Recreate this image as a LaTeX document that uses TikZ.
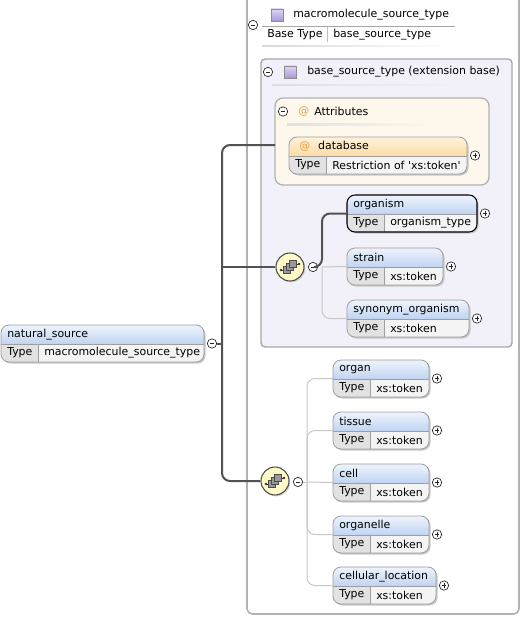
\documentclass[tikz,border=0pt]{standalone}
\usepackage{fontspec}
\setmainfont{DejaVu Sans}
\usetikzlibrary{shadows}

\definecolor{hdtop}{RGB}{238,244,253}
\definecolor{hdbot}{RGB}{192,212,241}
\definecolor{ortop}{RGB}{254,242,220}
\definecolor{orbot}{RGB}{251,220,165}
\definecolor{typecell}{RGB}{226,226,226}
\definecolor{valcell}{RGB}{244,244,244}
\definecolor{extbg}{RGB}{242,241,250}
\definecolor{attrbg}{RGB}{254,248,236}
\definecolor{seqfill}{RGB}{255,250,200}
\definecolor{atorange}{RGB}{238,158,60}
\definecolor{purtop}{RGB}{222,214,244}
\definecolor{purbot}{RGB}{168,152,218}

\tikzset{
  lbl/.style={anchor=west, inner sep=0pt, font=\fontsize{8.2}{9.5}\selectfont},
  boxline/.style={draw=black!38, line width=0.6pt},
  reqline/.style={draw=black, line width=0.8pt},
  pmcirc/.style={circle, draw=black!85, fill=white, line width=0.5pt, minimum size=7pt, inner sep=0pt},
  expander/.style={pmcirc, path picture={
      \draw[line width=0.55pt] ([xshift=-1.8pt]path picture bounding box.center) -- ([xshift=1.8pt]path picture bounding box.center);
      \draw[line width=0.55pt] ([yshift=-1.8pt]path picture bounding box.center) -- ([yshift=1.8pt]path picture bounding box.center);}},
  collapser/.style={pmcirc, path picture={
      \draw[line width=0.55pt] ([xshift=-1.8pt]path picture bounding box.center) -- ([xshift=1.8pt]path picture bounding box.center);}},
  seqcirc/.style={circle, draw=black!70, line width=0.8pt, fill=seqfill, minimum size=21pt, inner sep=0pt,
      drop shadow={shadow xshift=1pt, shadow yshift=-1pt, fill=black!30}},
  mainconn/.style={draw=black!68, line width=1.5pt, rounded corners=6pt},
  optconn/.style={draw=black!22, line width=0.75pt, rounded corners=6pt},
}

% #1-name #2-x #3-y #4-width #5-element #6-type #7-border style #8-header colour (hd / or) #9-expander / collapser
\newcommand{\elembox}[9]{%
  \fill[black!22, rounded corners=6pt] (#2+1.5,#3+1.5) rectangle (#2+#4+1.5,#3+38.5);
  \begin{scope}
    \clip[rounded corners=6pt] (#2,#3) rectangle (#2+#4,#3+37);
    \shade[top color=#8top, bottom color=#8bot] (#2,#3) rectangle (#2+#4,#3+19);
    \fill[typecell] (#2,#3+19) rectangle (#2+37,#3+37);
    \fill[valcell] (#2+37,#3+19) rectangle (#2+#4,#3+37);
  \end{scope}
  \draw[boxline] (#2,#3+19) -- (#2+#4,#3+19);
  \draw[boxline] (#2+37,#3+19) -- (#2+37,#3+37);
  \draw[#7, rounded corners=6pt] (#2,#3) rectangle (#2+#4,#3+37);
  \node[lbl] (#1) at (#2+6,#3+9.5) {#5};
  \node[lbl] (#1-tp) at (#2+6,#3+28) {Type};
  \node[lbl] (#1-val) at (#2+43,#3+28) {#6};
  \coordinate (#1-w) at (#2,#3+18.5);
  \node[#9] (#1-pm) at (#2+#4+8,#3+18.5) {};
}
% #1-x #2-y  (purple complex type square)
\newcommand{\typeicon}[2]{%
  \shade[top color=purtop, bottom color=purbot] (#1,#2) rectangle (#1+12,#2+12);
  \draw[draw=black!45, line width=0.4pt] (#1,#2) rectangle (#1+12,#2+12);
}
% #1-name of compositor node
\newcommand{\seqicon}[1]{%
  \begin{scope}[shift={(#1.center)}]
    \draw[black!80, line width=0.6pt] (-9,3) -- (-3,3);
    \draw[black!80, line width=0.6pt] (3,-3) -- (9,-3);
    \fill[black!80] (-9,3) circle (1.3);
    \fill[black!80] (9,-3) circle (1.3);
    \draw[black!70, fill=black!40, line width=0.4pt] (-6.5,6.5) rectangle (0.5,-0.5);
    \draw[black!70, fill=black!40, line width=0.4pt] (-3.5,3.5) rectangle (3.5,-3.5);
    \draw[black!70, fill=black!40, line width=0.4pt] (-0.5,0.5) rectangle (6.5,-6.5);
  \end{scope}
}

\begin{document}
\begin{tikzpicture}[x=0.75pt, y=-0.75pt]
  \useasboundingbox (0,0) rectangle (522,617);
  % complex type frame
  \draw[draw=black!30, line width=1.2pt, rounded corners=4pt] (247,-8) rectangle (519,614);
  \typeicon{271}{9}
  \node[lbl] (mst) at (293,15) {macromolecule\_source\_type};
  \draw[black!35, line width=0.5pt] (262,26) -- (455,26);
  \node[collapser] (mst-pm) at (253,25) {};
  \node[lbl] (mst-bt) at (267,34.5) {Base Type};
  \draw[black!25, line width=0.5pt] (327,27) -- (327,42);
  \node[lbl] (mst-base) at (333,34.5) {base\_source\_type};
  \shade[left color=black!15, right color=white] (262,45.5) rectangle (450,47);

  % extension base
  \draw[draw=black!35, fill=extbg, line width=1pt, rounded corners=3pt] (261,59) rectangle (512,347);
  \node[collapser] (ext-pm) at (268,72) {};
  \typeicon{284}{66}
  \node[lbl] (ext) at (307,72) {base\_source\_type (extension base)};
  \shade[left color=black!13, right color=extbg] (272,84.5) rectangle (462,86);

  % attributes
  \draw[draw=black!30, fill=attrbg, line width=1pt, rounded corners=6pt] (275,98) rectangle (489,185);
  \coordinate (attr-w) at (275,145);
  \node[collapser] (attr-pm) at (283,111.5) {};
  \node[lbl, text=atorange] (attr-at) at (298,111.5) {@};
  \node[lbl] (attr) at (314,111.5) {Attributes};
  \shade[left color=black!12, right color=attrbg] (287,123.5) rectangle (437,125);
  \elembox{db}{289}{137}{178}{\hspace{3pt}{\color{atorange}@}\hspace{6pt}database}{Restriction of \textquotesingle xs:token\textquotesingle}{boxline}{or}{expander}

  % first sequence
  \node[seqcirc] (seq1) at (290,267) {};
  \seqicon{seq1}
  \node[collapser] (seq1-pm) at (313,267) {};
  \coordinate (seq1-j) at (322,267);
  \elembox{organism}{347}{195}{130}{organism}{organism\_type}{reqline}{hd}{expander}
  \elembox{strain}{347}{248}{96}{strain}{xs:token}{boxline}{hd}{expander}
  \elembox{synonym}{347}{300}{122}{synonym\_organism}{xs:token}{boxline}{hd}{expander}
  \draw[optconn] (seq1-j) -- (strain-w);
  \draw[optconn] (seq1-j) |- (synonym-w);
  \draw[mainconn] (seq1-pm.east) -- (seq1-j) |- (organism-w);

  % second sequence
  \node[seqcirc] (seq2) at (275,481) {};
  \seqicon{seq2}
  \node[collapser] (seq2-pm) at (298,482) {};
  \coordinate (seq2-j) at (307,482);
  \elembox{organ}{333}{360}{96}{organ}{xs:token}{boxline}{hd}{expander}
  \elembox{tissue}{333}{412}{96}{tissue}{xs:token}{boxline}{hd}{expander}
  \elembox{cell}{333}{464}{96}{cell}{xs:token}{boxline}{hd}{expander}
  \elembox{organelle}{333}{516}{96}{organelle}{xs:token}{boxline}{hd}{expander}
  \elembox{cellloc}{333}{567}{103}{cellular\_location}{xs:token}{boxline}{hd}{expander}
  \draw[optconn] (seq2-pm.east) -- (seq2-j);
  \draw[optconn] (seq2-j) |- (organ-w);
  \draw[optconn] (seq2-j) |- (tissue-w);
  \draw[optconn] (seq2-j) -- (cell-w);
  \draw[optconn] (seq2-j) |- (organelle-w);
  \draw[optconn] (seq2-j) |- (cellloc-w);

  % root element
  \elembox{ns}{1}{325}{203}{natural\_source}{macromolecule\_source\_type}{boxline}{hd}{collapser}
  \coordinate (trunk) at (222,343.5);
  \draw[mainconn] (ns-pm.east) -- (trunk);
  \draw[mainconn] (attr-w) -| (trunk) |- (seq2.west);
  \draw[mainconn] (trunk |- seq1.west) -- (seq1.west);
\end{tikzpicture}
\end{document}
